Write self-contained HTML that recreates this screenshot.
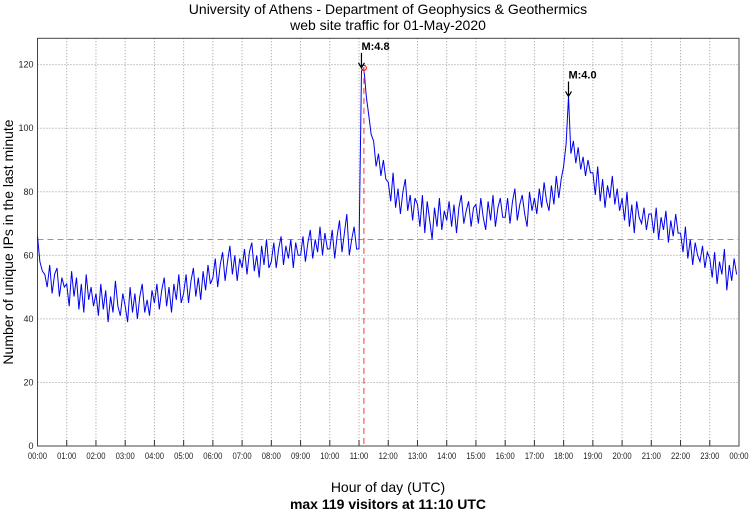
<!DOCTYPE html>
<html><head><meta charset="utf-8"><style>
body{margin:0;background:#fff;width:750px;height:511px;overflow:hidden}
svg{font-family:"Liberation Sans",sans-serif}
</style></head><body>
<svg id="c" width="750" height="511">
<text x="388" y="14" font-size="14" text-anchor="middle">University of Athens - Department of Geophysics &amp; Geothermics</text>
<text x="388" y="30" font-size="14" text-anchor="middle">web site traffic for 01-May-2020</text>
<text x="388" y="492" font-size="14" text-anchor="middle">Hour of day (UTC)</text>
<text x="388" y="509" font-size="14" font-weight="bold" text-anchor="middle">max 119 visitors at 11:10 UTC</text>
<text transform="translate(13,242) rotate(-90)" font-size="14" text-anchor="middle">Number of unique IPs in the last minute</text>
<g id="grid"></g><g id="plot"></g>
</svg>
<script>
const hours = ["00:00","01:00","02:00","03:00","04:00","05:00","06:00","07:00","08:00","09:00","10:00","11:00","12:00","13:00","14:00","15:00","16:00","17:00","18:00","19:00","20:00","21:00","22:00","23:00","00:00"];
const yTicks = [0,20,40,60,80,100,120];
const visitors = [
66,58,55,54,50,57,48,54,56,47,53,50,
51,44,55,47,53,43,51,42,54,46,50,44,
48,41,51,43,49,39,47,42,52,44,41,48,
44,39,50,42,48,40,47,51,42,46,41,49,
45,51,43,49,53,44,50,42,51,46,54,45,
48,54,45,52,56,47,53,46,55,49,57,51,
53,59,50,57,61,52,58,63,54,60,52,59,
56,62,54,61,64,55,60,53,63,57,65,56,
58,64,56,62,66,57,63,59,65,56,64,60,
60,66,58,64,68,59,65,61,69,60,67,62,
62,68,59,66,71,61,67,73,60,65,69,62,
62,118,119,110,104,98,96,88,92,85,90,84,
83,77,86,75,81,73,80,84,74,79,71,78,
76,69,79,67,77,71,65,75,69,78,68,74,
71,77,69,76,67,75,79,70,74,77,69,75,
76,70,78,72,68,77,71,79,69,75,78,72,
72,78,70,77,81,71,76,79,73,69,80,74,
78,73,81,75,83,77,74,82,76,85,78,84,
88,95,110,92,96,89,94,87,91,85,90,86,
86,79,88,77,84,75,82,78,85,76,81,74,
78,71,80,69,76,67,77,72,70,75,68,73,
73,67,75,65,72,68,74,64,71,66,73,67,
67,61,69,59,65,57,64,60,58,63,56,61,
59,53,61,51,58,54,62,49,57,52,59,54];
const refLevel = [65];
const maxMark = [11+10/60, 119];
const quakes = [{t:11+5/60,v:119,label:"M:4.8"},{t:18+10/60,v:110,label:"M:4.0"}];

const L=37.5,R=739,B=446,T=38.3,YMAX=128.3;
const x=h=>L+h*(R-L)/24, y=v=>B-v*(B-T)/YMAX;
const NS="http://www.w3.org/2000/svg";
function mk(tag,attrs,parent){const e=document.createElementNS(NS,tag);for(const k in attrs)e.setAttribute(k,attrs[k]);parent.appendChild(e);return e;}
const g=document.getElementById('grid'),p=document.getElementById('plot');
hours.forEach((h,i)=>{
  const l=mk('line',{x1:x(i),x2:x(i),y1:T,y2:B,stroke:'#999','stroke-dasharray':'1,2','stroke-width':1},g);
  
  
  mk('line',{x1:x(i),x2:x(i),y1:B,y2:B-6,stroke:'#333'},g);
  const t=mk('text',{x:x(i),y:B+13,'font-size':9,'text-anchor':'middle',fill:'#222',transform:`translate(${x(i)},0) scale(0.85,1) translate(${-x(i)},0)`},g);
  t.textContent=h;
  
  
});
yTicks.forEach(v=>{
  const l=mk('line',{x1:L,x2:R,y1:y(v),y2:y(v),stroke:'#999','stroke-dasharray':'1,2'},g);
  
  
  const t=mk('text',{x:L-4,y:y(v)+3,'font-size':9,'text-anchor':'end',fill:'#222'},g);
  t.textContent=v;
  
  
});
const fr=mk('rect',{x:L,y:T,width:R-L,height:B-T,fill:'none',stroke:'#444'},g);


const ry=Math.round(y(refLevel[0]))+0.5;
const rl=mk('line',{x1:L,x2:R,y1:ry,y2:ry,stroke:'#33dd33','stroke-dasharray':'6,4','stroke-width':1,'shape-rendering':'crispEdges'},p);


const pts=visitors.map((v,i)=>x(i*24/visitors.length).toFixed(1)+','+y(v).toFixed(1)).join(' ');
const ln=mk('polyline',{points:pts,fill:'none',stroke:'#0000ee','stroke-width':1},p);


const mv=mk('line',{x1:x(maxMark[0]),x2:x(maxMark[0]),y1:y(maxMark[1]),y2:B,stroke:'#f55','stroke-dasharray':'6,4','stroke-width':1.2},p);


const mc=mk('circle',{cx:x(maxMark[0]),cy:y(maxMark[1]),r:2.5,fill:'none',stroke:'#f00'},p);


quakes.forEach(q=>{
  const ax=x(q.t),ay=y(q.v);
  const a=mk('path',{d:`M${ax},${ay-15} L${ax},${ay-1} M${ax-3},${ay-5} L${ax},${ay} L${ax+3},${ay-5}`,stroke:'#000','stroke-width':1.2,fill:'none'},p);
  
  
  const t=mk('text',{x:ax,y:ay-18,'font-size':11,'font-weight':'bold'},p);
  t.textContent=q.label;
  
  
});
</script>
</body></html>
